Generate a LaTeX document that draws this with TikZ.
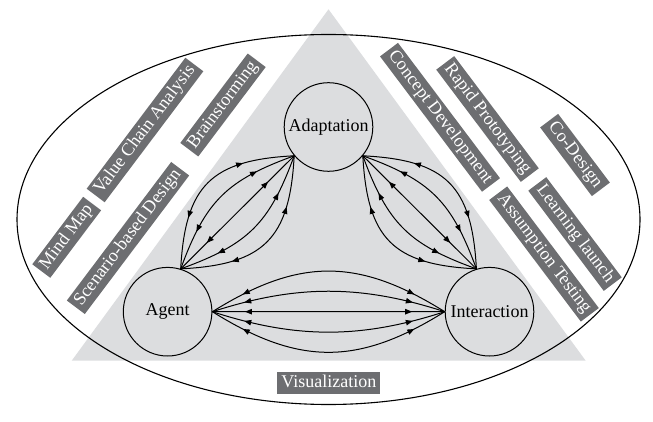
\documentclass[tikz,border=0pt]{standalone}
\usepackage{fontspec}
\setmainfont{Liberation Serif}
\usetikzlibrary{calc,arrows.meta,decorations.markings}
\definecolor{trifill}{RGB}{220,221,223}
\definecolor{labfill}{RGB}{109,110,113}
\tikzset{
  >={Triangle[length=7pt,width=5.4pt]},
  txt/.style={font=\fontsize{18}{20}\selectfont},
  circ/.style={circle, draw, line width=1pt, minimum size=88.6pt, inner sep=0pt, txt},
  lab/.style={fill=labfill, text=white, txt, inner xsep=4pt, inner ysep=3pt, text height=12.5pt, text depth=4pt},
  conn/.style={line width=1pt},
  bimark/.style 2 args={postaction={decorate}, decoration={markings,
      mark=at position #1 with {\arrowreversed{>}},
      mark=at position #2 with {\arrow{>}}}},
}
\newcommand\biarc[7]{\draw[conn,bimark={#6}{#7}] (#1) .. controls ($(#1)!#5!#3:(#2)$) and ($(#2)!#5!#4:(#1)$) .. (#2);}
\begin{document}
\begin{tikzpicture}[x=1pt,y=-1pt]
\useasboundingbox (0,0) rectangle (653,422);
\fill[trifill] (71.7,360.7) -- (585.7,360.7) -- (328.5,9.3) -- cycle;
\draw[line width=1.1pt] (328.5,219.5) ellipse [x radius=311.5pt, y radius=185pt];

\node[circ] (Adaptation) at (328.5,127) {Adaptation};
\node[circ] (Agent) at (167.6,311.7) {Agent};
\node[circ] (Interaction) at (489.5,311.7) {Interaction};

% Agent -- Adaptation
\biarc{Agent.73}{Adaptation.220}{42}{-42}{0.52}{0.28}{0.72}
\biarc{Agent.73}{Adaptation.220}{25}{-25}{0.45}{0.24}{0.76}
\biarc{Agent.73}{Adaptation.220}{0}{0}{0.4}{0.23}{0.77}
\biarc{Agent.73}{Adaptation.220}{-25}{25}{0.45}{0.24}{0.76}
\biarc{Agent.73}{Adaptation.220}{-42}{42}{0.52}{0.28}{0.72}
% Adaptation -- Interaction
\biarc{Adaptation.320}{Interaction.107}{42}{-42}{0.52}{0.28}{0.72}
\biarc{Adaptation.320}{Interaction.107}{25}{-25}{0.45}{0.24}{0.76}
\biarc{Adaptation.320}{Interaction.107}{0}{0}{0.4}{0.23}{0.77}
\biarc{Adaptation.320}{Interaction.107}{-25}{25}{0.45}{0.24}{0.76}
\biarc{Adaptation.320}{Interaction.107}{-42}{42}{0.52}{0.28}{0.72}
% Agent -- Interaction
\biarc{Agent.east}{Interaction.west}{32}{-32}{0.44}{0.14}{0.86}
\biarc{Agent.east}{Interaction.west}{18}{-18}{0.38}{0.14}{0.86}
\biarc{Agent.east}{Interaction.west}{0}{0}{0.4}{0.14}{0.86}
\biarc{Agent.east}{Interaction.west}{-18}{18}{0.38}{0.14}{0.86}
\biarc{Agent.east}{Interaction.west}{-32}{32}{0.44}{0.14}{0.86}

\node[lab, rotate=53] (mm) at (66.7,237.3) {Mind Map};
\node[lab, rotate=53] (vca) at (145,130) {Value Chain Analysis};
\node[lab, rotate=53] (sbd) at (128,238) {Scenario-based Design};
\node[lab, rotate=53] (bs) at (223,105) {Brainstorming};
\node[lab, rotate=-53] (cd) at (440,117.3) {Concept Development};
\node[lab, rotate=-53] (rp) at (487.5,119) {Rapid Prototyping};
\node[lab, rotate=-53] (co) at (575,155) {Co-Design};
\node[lab, rotate=-53] (ll) at (575,234) {Learning launch};
\node[lab, rotate=-53] (at) at (544,254) {Assumption Testing};
\node[lab] (vis) at (328.8,383) {Visualization};
\end{tikzpicture}
\end{document}
